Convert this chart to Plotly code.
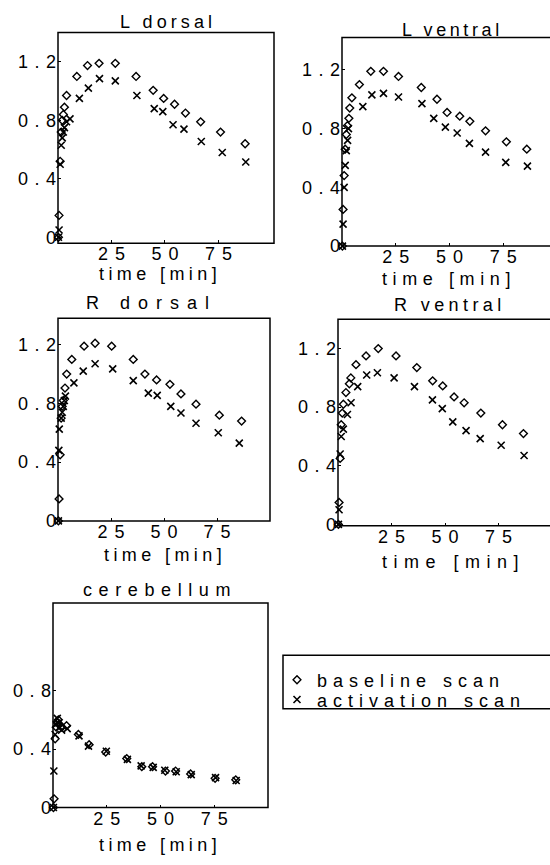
import plotly.graph_objects as go

W, H = 550, 865
FONT = "Liberation Sans, Arial, Helvetica, sans-serif"

# ---------------- data (time in min, normalised activity) ----------------
ld_base_t = [0.2, 0.5, 1.0, 1.5, 2.0, 2.5, 3.0, 4.0, 8.8, 13.8, 19.2, 26.8, 36.5, 44.5, 49.4, 54.5, 59.6, 66.7, 76.0, 87.5]
ld_base_v = [0.0, 0.15, 0.52, 0.72, 0.80, 0.84, 0.89, 0.97, 1.10, 1.175, 1.19, 1.19, 1.10, 1.005, 0.95, 0.91, 0.85, 0.79, 0.72, 0.64]
ld_act_t = [0.2, 0.5, 1.0, 1.5, 2.0, 2.5, 3.0, 4.0, 5.6, 10.0, 14.2, 19.4, 26.8, 36.9, 45.0, 49.0, 53.8, 58.9, 67.0, 76.8, 87.8]
ld_act_v = [0.0, 0.05, 0.50, 0.63, 0.68, 0.72, 0.75, 0.79, 0.81, 0.95, 1.02, 1.085, 1.07, 0.97, 0.88, 0.86, 0.77, 0.74, 0.655, 0.58, 0.515]

lv_base_t = [0.2, 0.5, 1.0, 1.5, 2.0, 2.5, 3.2, 3.6, 4.6, 8.1, 13.4, 19.3, 26.3, 36.9, 44.2, 48.9, 54.8, 59.5, 66.8, 76.5, 86.0]
lv_base_v = [0.0, 0.25, 0.48, 0.66, 0.76, 0.82, 0.87, 0.94, 1.01, 1.10, 1.19, 1.19, 1.155, 1.08, 1.00, 0.91, 0.885, 0.85, 0.785, 0.71, 0.66]
lv_act_t = [0.2, 0.5, 1.0, 1.5, 2.0, 2.6, 3.0, 9.7, 13.9, 19.3, 26.3, 37.2, 42.7, 48.1, 53.6, 59.3, 66.8, 76.2, 86.3]
lv_act_v = [0.0, 0.15, 0.40, 0.55, 0.65, 0.72, 0.80, 0.95, 1.03, 1.04, 1.015, 0.97, 0.87, 0.81, 0.77, 0.70, 0.64, 0.57, 0.545]

rd_base_t = [0.2, 0.5, 1.0, 1.5, 2.0, 2.5, 3.3, 4.1, 6.5, 12.3, 17.5, 25.3, 35.5, 41.0, 46.5, 52.8, 58.0, 65.1, 76.1, 86.6]
rd_base_v = [0.0, 0.15, 0.45, 0.70, 0.78, 0.82, 0.905, 1.00, 1.10, 1.19, 1.21, 1.19, 1.10, 1.00, 0.96, 0.93, 0.865, 0.795, 0.72, 0.68]
rd_act_t = [0.2, 0.4, 0.6, 1.5, 2.0, 2.5, 3.0, 3.5, 7.5, 11.9, 17.5, 25.8, 35.5, 42.6, 46.8, 53.2, 58.0, 65.1, 75.6, 85.5]
rd_act_v = [0.0, 0.48, 0.625, 0.70, 0.74, 0.78, 0.82, 0.85, 0.94, 1.02, 1.07, 1.035, 0.955, 0.87, 0.855, 0.78, 0.735, 0.665, 0.60, 0.53]

rv_base_t = [0.2, 0.5, 1.0, 1.5, 2.0, 2.5, 3.7, 5.3, 6.0, 8.4, 13.1, 18.8, 27.1, 36.8, 44.2, 48.9, 54.2, 58.9, 66.7, 76.8, 86.6]
rv_base_v = [0.0, 0.15, 0.45, 0.68, 0.76, 0.82, 0.90, 0.96, 1.00, 1.09, 1.15, 1.20, 1.15, 1.07, 0.98, 0.945, 0.87, 0.83, 0.76, 0.68, 0.62]
rv_act_t = [0.2, 0.5, 1.0, 1.5, 2.5, 4.4, 6.1, 9.2, 13.4, 18.4, 26.2, 35.7, 44.1, 48.7, 53.6, 59.8, 66.4, 76.2, 86.9]
rv_act_v = [0.0, 0.10, 0.48, 0.60, 0.65, 0.75, 0.83, 0.94, 1.02, 1.035, 1.00, 0.94, 0.85, 0.79, 0.70, 0.64, 0.585, 0.54, 0.47]

cb_base_t = [0.2, 0.5, 1.0, 1.5, 2.0, 2.5, 3.0, 4.0, 6.3, 11.8, 16.8, 24.5, 34.3, 41.3, 46.3, 52.3, 57.0, 64.0, 75.4, 85.0]
cb_base_v = [0.0, 0.06, 0.47, 0.55, 0.58, 0.60, 0.57, 0.55, 0.56, 0.50, 0.43, 0.38, 0.335, 0.28, 0.28, 0.25, 0.25, 0.23, 0.20, 0.19]
cb_act_t = [0.2, 0.4, 1.0, 1.5, 2.0, 2.5, 3.0, 4.0, 6.6, 12.1, 16.5, 24.8, 34.6, 41.0, 46.6, 52.0, 57.3, 64.3, 75.6, 85.2]
cb_act_v = [0.0, 0.25, 0.50, 0.57, 0.61, 0.58, 0.55, 0.53, 0.54, 0.49, 0.42, 0.385, 0.33, 0.285, 0.275, 0.255, 0.245, 0.225, 0.205, 0.185]

x_ticks = [25, 50, 75]
y_ticks = [0, 0.4, 0.8, 1.2]
y_ticks_cb = [0, 0.4, 0.8]

titles = ["L dorsal", "L ventral", "R dorsal", "R ventral", "cerebellum"]
x_label = "time [min]"
series_names = ["baseline scan", "activation scan"]


def sp(text, ls):
    """letter-spaced text (no trailing space after last char)"""
    if len(text) < 2:
        return text
    return f"<span style='letter-spacing:{ls}px'>{text[:-1]}</span>{text[-1]}"


def num(v):
    return "0" if v == 0 else f"{v:g}"


def px(x):   # page pixel -> paper x
    return x / W


def py(y):   # page pixel -> paper y
    return 1 - y / H


# ---------------- layout of panels (pixel boxes) ----------------
panels = [
    dict(data=(ld_base_t, ld_base_v, ld_act_t, ld_act_v), box=(58, 274, 33, 246),
         xr=[0, 101], yr=[-0.04, 1.40], yt=y_ticks,
         title=(166, 22, 4.1), xl=(158, 277, 4.4)),
    dict(data=(lv_base_t, lv_base_v, lv_act_t, lv_act_v), box=(342, 558, 38, 249),
         xr=[0, 96.8], yr=[0, 1.42], yt=y_ticks,
         title=(450, 30, 3.6), xl=(446, 282, 5.6)),
    dict(data=(rd_base_t, rd_base_v, rd_act_t, rd_act_v), box=(58, 270, 322, 527),
         xr=[0, 100], yr=[0, 1.38], yt=y_ticks,
         title=(147, 307, 8.0), xl=(163, 561, 4.4)),
    dict(data=(rv_base_t, rv_base_v, rv_act_t, rv_act_v), box=(338, 554, 323, 532),
         xr=[0, 99.0], yr=[-0.01, 1.40], yt=y_ticks,
         title=(447, 309, 4.4), xl=(450, 569, 6.5)),
    dict(data=(cb_base_t, cb_base_v, cb_act_t, cb_act_v), box=(53, 268, 610, 817),
         xr=[0, 100], yr=[0, 1.40], yt=y_ticks_cb,
         title=(156, 597, 6.6), xl=(158, 855, 4.4)),
]

fig = go.Figure()
shapes = []
annotations = []
FS = 18

for i, p in enumerate(panels):
    k = "" if i == 0 else str(i + 1)
    bt, bv, at, av = p["data"]
    x0, x1, y0, y1 = p["box"]
    fig.add_trace(go.Scatter(
        x=bt, y=bv, mode="markers", xaxis="x" + k, yaxis="y" + k,
        name=sp(series_names[0], 6.0), legend="legend", showlegend=(i == 0),
        marker=dict(symbol="diamond-open", size=6, color="black", line=dict(width=1.4, color="black")),
        cliponaxis=False, hoverinfo="skip"))
    fig.add_trace(go.Scatter(
        x=at, y=av, mode="markers", xaxis="x" + k, yaxis="y" + k,
        name=sp(series_names[1], 6.0), legend="legend2", showlegend=(i == 0),
        marker=dict(symbol="x-thin-open", size=7, color="black", line=dict(width=1.6, color="black")),
        cliponaxis=False, hoverinfo="skip"))
    axcommon = dict(showline=False, zeroline=False, showgrid=False, ticks="inside", ticklen=3,
                    tickwidth=1, tickcolor="black", tickfont=dict(size=FS, color="black", family=FONT))
    fig.update_layout(**{
        "xaxis" + k: dict(domain=[px(x0), min(px(x1), 1.0)], range=p["xr"], anchor="y" + k,
                          tickmode="array", tickvals=x_ticks, ticklabelstandoff=-2,
                          ticktext=[sp(str(v), 7.0) for v in x_ticks], **axcommon),
        "yaxis" + k: dict(domain=[py(y1), py(y0)], range=p["yr"], anchor="x" + k,
                          tickmode="array", tickvals=p["yt"], ticklabelstandoff=1,
                          ticktext=[sp(num(v), 6.5) for v in p["yt"]], **axcommon),
    })
    shapes.append(dict(type="rect", xref="paper", yref="paper",
                       x0=px(x0), x1=px(x1), y0=py(y1), y1=py(y0),
                       line=dict(color="black", width=1.5), layer="above"))
    tx, ty, tls = p["title"]
    annotations.append(dict(text=sp(titles[i], tls), x=px(tx), y=py(ty), xref="paper", yref="paper",
                            xanchor="center", yanchor="middle", showarrow=False,
                            font=dict(size=FS, color="black", family=FONT)))
    lx, ly, lls = p["xl"]
    annotations.append(dict(text=sp(x_label, lls), x=px(lx), y=py(ly), xref="paper", yref="paper",
                            xanchor="center", yanchor="middle", showarrow=False,
                            font=dict(size=FS, color="black", family=FONT)))

# legend frame
shapes.append(dict(type="rect", xref="paper", yref="paper",
                   x0=px(283), x1=px(570), y0=py(717), y1=py(663),
                   line=dict(color="black", width=1.5)))

legcommon = dict(xanchor="left", yanchor="middle", bgcolor="rgba(0,0,0,0)", borderwidth=0,
                 font=dict(size=FS, color="black", family=FONT), itemwidth=30, indentation=-15)

fig.update_layout(
    width=W, height=H, margin=dict(l=0, r=0, t=0, b=0),
    paper_bgcolor="white", plot_bgcolor="white",
    font=dict(family=FONT, size=FS, color="black"),
    shapes=shapes, annotations=annotations,
    showlegend=True, hovermode=False,
    legend=dict(x=px(292), y=py(688), **legcommon),
    legend2=dict(x=px(292), y=py(708), **legcommon),
)

fig.write_html("out.html", config={"displayModeBar": False, "staticPlot": True},
               post_script="document.body.style.margin='0px';")
